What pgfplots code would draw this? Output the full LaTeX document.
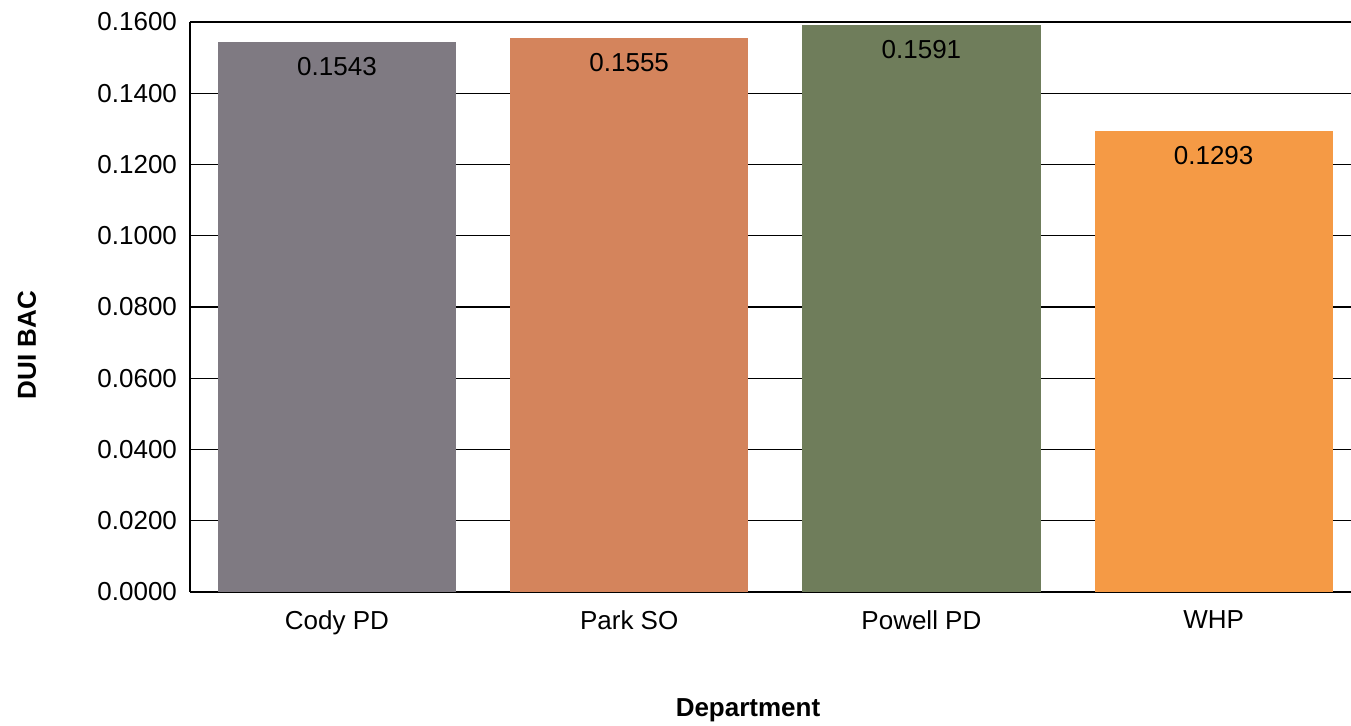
\documentclass[border=0pt]{standalone}
\usepackage{pgfplots}
\pgfplotsset{compat=1.18}
\usepackage{fontspec}
\setmainfont{Liberation Sans}
\definecolor{cgray}{HTML}{7F7A82}
\definecolor{cbrown}{HTML}{D4845C}
\definecolor{cgreen}{HTML}{6F7D5B}
\definecolor{corange}{HTML}{F59A45}
\begin{document}
\fontsize{13}{15.6}\selectfont
\begin{tikzpicture}
\useasboundingbox (-95pt,-67pt) rectangle (580.5pt,296pt);
\begin{axis}[
  at={(0,0)}, anchor=south west,
  width=580.5pt, height=285pt, scale only axis,
  xmin=-0.503, xmax=3.47,
  ymin=0, ymax=0.16,
  ytick={0,0.02,...,0.161},
  xtick={0,1,2,3},
  xticklabels={Cody PD, Park SO, Powell PD, WHP},
  /pgf/number format/assume math mode=true,
  yticklabel style={xshift=-2pt, /pgf/number format/.cd, fixed, fixed zerofill, precision=4},
  scaled y ticks=false,
  major tick length=0pt,
  ymajorgrids,
  grid style={black, line width=0.6pt},
  axis x line*=bottom, axis y line*=left,
  axis line style={black, line width=0.8pt, -},
  ybar, bar width=0.815, bar shift=0pt,
  xticklabel style={yshift=-5pt},
  nodes near coords,
  every node near coord/.append style={anchor=north, yshift=-3pt, text=black,
     /pgf/number format/.cd, fixed, fixed zerofill, precision=4},
  tick label style={font=\fontsize{13}{15.6}\selectfont},
]
\addplot[fill=cgray, draw=none] coordinates {(0,0.1543)};
\addplot[fill=cbrown, draw=none] coordinates {(1,0.1555)};
\addplot[fill=cgreen, draw=none] coordinates {(2,0.1591)};
\addplot[fill=corange, draw=none] coordinates {(3,0.1293)};
\end{axis}
\node[font=\bfseries\fontsize{13}{15.6}\selectfont] at (279pt,-59pt) {Department};
\node[font=\bfseries\fontsize{13}{15.6}\selectfont, rotate=90] at (-81.5pt,123.5pt) {DUI BAC};
\end{tikzpicture}
\end{document}
